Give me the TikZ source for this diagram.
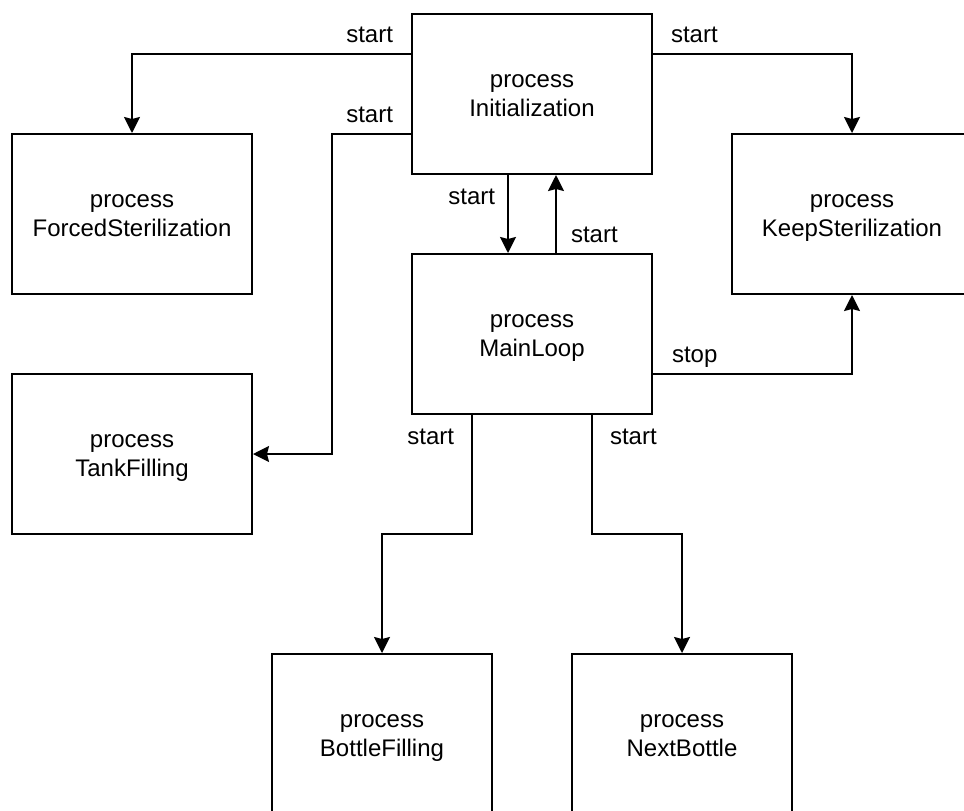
\documentclass[tikz,border=0pt]{standalone}
\usepackage{fontspec}
\setmainfont{Liberation Sans}
\usetikzlibrary{arrows.meta,calc}

\begin{document}
\begin{tikzpicture}[x=0.5pt,y=-0.5pt,
    proc/.style={draw,line width=1pt,minimum width=120pt,minimum height=80pt,inner sep=0pt,
        align=center,font=\fontsize{12}{14.4}\selectfont,text height=25.5pt,text depth=3pt},
    flow/.style={line width=1pt,-{Stealth[length=8pt,width=8pt,inset=1pt]}},
    lbl/.style={inner sep=0pt,font=\fontsize{12}{14.4}\selectfont}]
    \useasboundingbox (0,0) rectangle (964,810);
    \clip (0,0) rectangle (964,810);

    \node[proc] (init) at (532,94) {process\\Initialization};
    \node[proc] (forced) at (132,214) {process\\ForcedSterilization};
    \node[proc] (keep) at (852,214) {process\\KeepSterilization};
    \node[proc] (mainloop) at (532,334) {process\\MainLoop};
    \node[proc] (tank) at (132,454) {process\\TankFilling};
    \node[proc,minimum width=110pt] (bottle) at (382,734) {process\\BottleFilling};
    \node[proc,minimum width=110pt] (nextbottle) at (682,734) {process\\NextBottle};

    \draw[flow] ([yshift=20pt]init.west)
        node[lbl,anchor=base east,xshift=-8.5pt,yshift=6pt] {start} -| (forced.north);
    \draw[flow] ([yshift=-20pt]init.west)
        node[lbl,anchor=base east,xshift=-8.5pt,yshift=6pt] {start}
        -| ($(tank.east)!.5!(mainloop.west)$) |- (tank.east);
    \draw[flow] ([yshift=20pt]init.east)
        node[lbl,anchor=base west,xshift=8.5pt,yshift=6pt] {start} -| (keep.north);
    \draw[flow] ([xshift=-12pt]init.south)
        node[lbl,anchor=base east,xshift=-6pt,yshift=-14.5pt] {start} -- ([xshift=-12pt]mainloop.north);
    \draw[flow] ([xshift=12pt]mainloop.north)
        node[lbl,anchor=base west,xshift=7pt,yshift=5.5pt] {start} -- ([xshift=12pt]init.south);
    \draw[flow] ([yshift=-20pt]mainloop.east)
        node[lbl,anchor=base west,xshift=9pt,yshift=6pt] {stop} -| (keep.south);
    \draw[flow] ([xshift=-30pt]mainloop.south)
        node[lbl,anchor=base east,xshift=-8.5pt,yshift=-14.5pt] {start}
        |- ($(mainloop.south)!.5!(bottle.north)$) -| (bottle.north);
    \draw[flow] ([xshift=30pt]mainloop.south)
        node[lbl,anchor=base west,xshift=8.5pt,yshift=-14.5pt] {start}
        |- ($(mainloop.south)!.5!(nextbottle.north)$) -| (nextbottle.north);
\end{tikzpicture}
\end{document}
